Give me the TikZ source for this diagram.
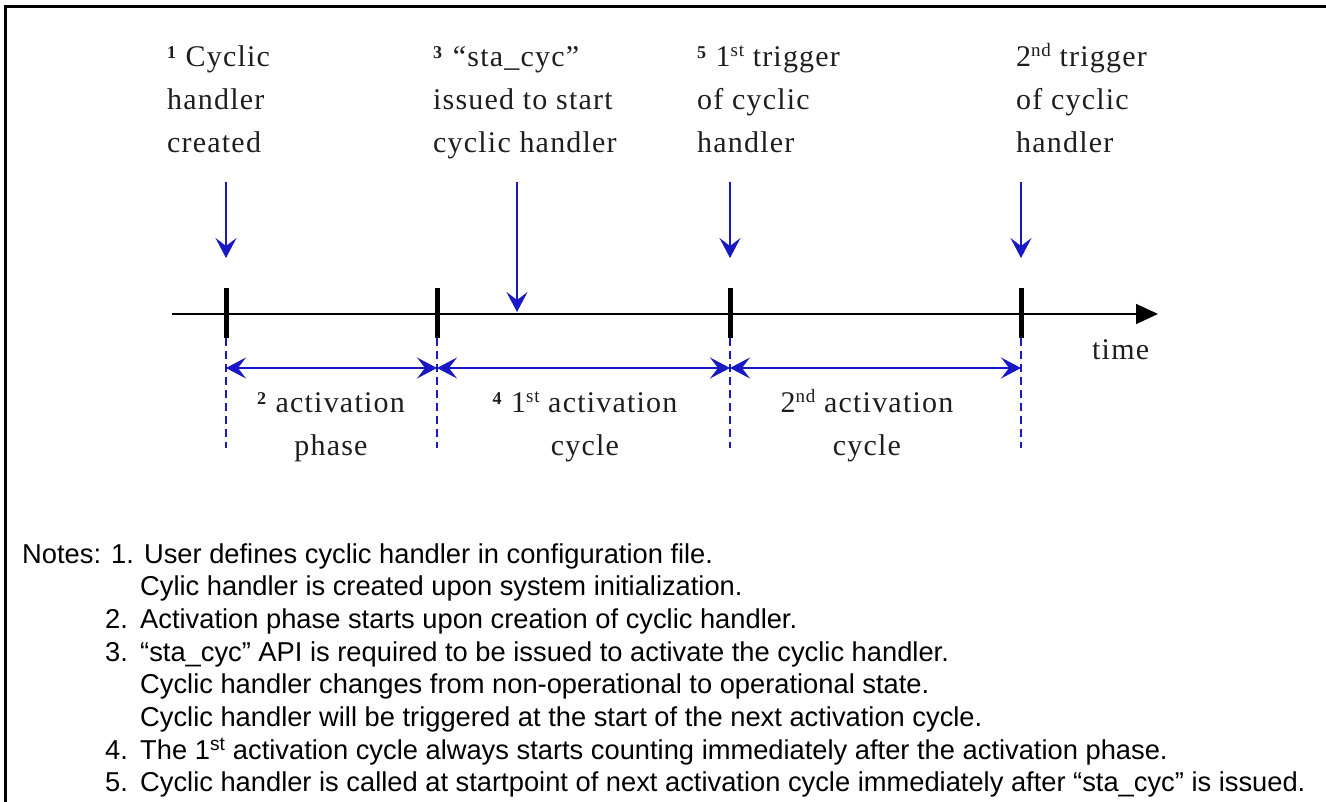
\documentclass[tikz,border=0pt]{standalone}
\usepackage{fontspec}
\setmainfont{Liberation Serif}[LetterSpace=4.0]
\newfontfamily\notefont{Liberation Sans}
\usetikzlibrary{arrows.meta}

\definecolor{lineblue}{RGB}{24,24,196}
\definecolor{inkgray}{RGB}{30,30,30}

% bold step number and ordinal suffix, both raised to cap height
\newcommand\stepno[1]{\raisebox{8.5pt}{\fontsize{18}{18}\selectfont\textbf{#1}}}
\newcommand\ordsfx[1]{\raisebox{10.5pt}{\fontsize{19}{19}\selectfont #1}}

\begin{document}
\begin{tikzpicture}[x=1pt,y=-1pt,
  lbl/.style={inner sep=0pt, text=inkgray, font=\fontsize{30}{43}\selectfont},
  note/.style={inner sep=0pt, anchor=base west, font=\notefont\fontsize{27.3}{30}\selectfont},
  pointer/.style={draw=lineblue, line width=1.4pt, -{Stealth[length=20pt,width=21pt,inset=8pt]}},
  span/.style={draw=lineblue, line width=1.4pt,
    {Stealth[length=20pt,width=21pt,inset=8pt]}-{Stealth[length=20pt,width=21pt,inset=8pt]}},
  guide/.style={draw=lineblue, line width=1.3pt, dash pattern=on 8pt off 5pt},
  tickmark/.style={draw=black, line width=5pt},
  axis/.style={draw=black, line width=1.5pt, -{Triangle[length=22pt,width=20pt]}},
  frameline/.style={draw=black, line width=3pt}]

\useasboundingbox (0,0) rectangle (1326,802);
\fill[white] (0,0) rectangle (1326,802);

% frame
\coordinate (fbl) at (5,802);
\coordinate (ftl) at (5,7);
\coordinate (ftr) at (1326,7);
\draw[frameline] (fbl) -- (ftl) -- (ftr);

% time axis
\coordinate (axs) at (172,314);
\coordinate (axe) at (1158,314);
\draw[axis] (axs) -- (axe);

% event ticks with guides below
\foreach \n/\x in {1/226,2/437,3/730,4/1021}{
  \coordinate (tt\n) at (\x,288);
  \coordinate (tb\n) at (\x,338);
  \coordinate (gb\n) at (\x,448);
  \coordinate (sp\n) at (\x,368);
  \draw[tickmark] (tt\n) -- (tb\n);
  \draw[guide] (tb\n) -- (gb\n);
}

% event labels
\node[lbl, anchor=base west] (ev1) at (167,67)
  {\begin{tabular}[t]{@{}l@{}}\stepno{1} Cyclic\\handler\\created\end{tabular}};
\node[lbl, anchor=base west] (ev3) at (433,67)
  {\begin{tabular}[t]{@{}l@{}}\stepno{3}\hspace{10pt}“sta\_cyc”\\issued to start\\cyclic handler\end{tabular}};
\node[lbl, anchor=base west] (ev5) at (697,67)
  {\begin{tabular}[t]{@{}l@{}}\stepno{5} 1\ordsfx{st} trigger\\of cyclic\\handler\end{tabular}};
\node[lbl, anchor=base west] (ev6) at (1016,67)
  {\begin{tabular}[t]{@{}l@{}}2\ordsfx{nd} trigger\\of cyclic\\handler\end{tabular}};

% event pointers
\coordinate (p1a) at (226,182); \coordinate (p1b) at (226,258);
\coordinate (p3a) at (517,182); \coordinate (p3b) at (517,312);
\coordinate (p5a) at (730,182); \coordinate (p5b) at (730,258);
\coordinate (p6a) at (1021,182); \coordinate (p6b) at (1021,258);
\draw[pointer] (p1a) -- (p1b);
\draw[pointer] (p3a) -- (p3b);
\draw[pointer] (p5a) -- (p5b);
\draw[pointer] (p6a) -- (p6b);

% interval spans
\draw[span] (sp1) -- (sp2);
\draw[span] (sp2) -- (sp3);
\draw[span] (sp3) -- (sp4);

% interval labels
\node[lbl, anchor=base] (iv2) at (331,413)
  {\begin{tabular}[t]{@{}c@{}}\stepno{2} activation\\phase\end{tabular}};
\node[lbl, anchor=base] (iv4) at (585,413)
  {\begin{tabular}[t]{@{}c@{}}\stepno{4} 1\ordsfx{st} activation\\cycle\end{tabular}};
\node[lbl, anchor=base] (iv7) at (867,413)
  {\begin{tabular}[t]{@{}c@{}}2\ordsfx{nd} activation\\cycle\end{tabular}};
\node[lbl, anchor=base west] (tm) at (1092,360) {time};

% notes
\node[note] (n0) at (22,563) {Notes: 1. User defines cyclic handler in configuration file.};
\node[note] (n1) at (140,595.7) {Cylic handler is created upon system initialization.};
\node[note] (k2) at (105,628.4) {2.};
\node[note] (n2) at (140,628.4) {Activation phase starts upon creation of cyclic handler.};
\node[note] (k3) at (105,661.1) {3.};
\node[note] (n3) at (140,661.1) {“sta\_cyc” API is required to be issued to activate the cyclic handler.};
\node[note] (n3b) at (140,693.8) {Cyclic handler changes from non-operational to operational state.};
\node[note] (n3c) at (140,726.5) {Cyclic handler will be triggered at the start of the next activation cycle.};
\node[note] (k4) at (105,759.2) {4.};
\node[note] (n4) at (140,759.2) {The 1\textsuperscript{st} activation cycle always starts counting immediately after the activation phase.};
\node[note] (k5) at (105,791.9) {5.};
\node[note] (n5) at (140,791.9) {Cyclic handler is called at startpoint of next activation cycle immediately after “sta\_cyc” is issued.};

\end{tikzpicture}
\end{document}
